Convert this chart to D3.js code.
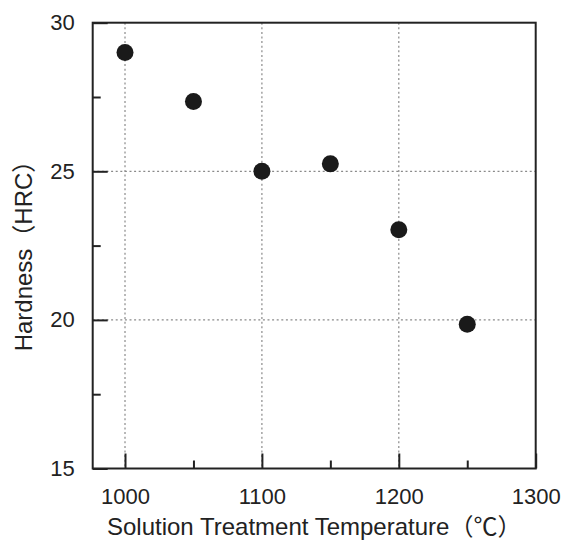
<!DOCTYPE html>
<html>
<head>
<meta charset="utf-8">
<script src="https://cdn.jsdelivr.net/npm/d3@7"></script>
<style>
  html, body { margin: 0; padding: 0; background: #fff; }
  svg { display: block; }
  text { font-family: "Liberation Sans", Arial, "Noto Sans CJK JP", sans-serif; fill: #222; }
</style>
</head>
<body>
<svg id="chart" width="562" height="540"></svg>
<script>
// Solution treatment temperature (°C) and resulting hardness (HRC)
const temperatures = [1000, 1050, 1100, 1150, 1200, 1250];
const hardness = [29.0, 27.35, 25.0, 25.25, 23.03, 19.85];

const xMajorTicks = [1000, 1100, 1200, 1300];
const xMinorTicks = [1050, 1150, 1250];
const yMajorTicks = [15, 20, 25, 30];
const yMinorTicks = [17.5, 22.5, 27.5];
const xGrid = [1000, 1100, 1200];
const yGrid = [20, 25];

const xTitle = "Solution Treatment Temperature（℃）";
const yTitle = "Hardness（HRC）";

(function () {
  const svg = d3.select("#chart");
  const plotL = 92.7, plotR = 535.7, plotT = 22.7, plotB = 468.5;

  const x = d3.scaleLinear().domain([976.4, 1300]).range([plotL, plotR]);
  const y = d3.scaleLinear().domain([15, 30]).range([plotB, plotT]);

  // dotted grid
  const grid = svg.append("g")
    .attr("stroke", "#8a8a8a")
    .attr("stroke-width", 1.2)
    .attr("stroke-dasharray", "2,2.6");
  grid.selectAll("line.vx").data(xGrid).join("line")
    .attr("class", "vx")
    .attr("x1", d => x(d)).attr("x2", d => x(d))
    .attr("y1", plotT).attr("y2", plotB);
  grid.selectAll("line.hy").data(yGrid).join("line")
    .attr("class", "hy")
    .attr("x1", plotL).attr("x2", plotR)
    .attr("y1", d => y(d)).attr("y2", d => y(d));

  // bottom axis: inward major and minor ticks
  svg.append("g")
    .attr("transform", `translate(0,${plotB})`)
    .call(d3.axisBottom(x).tickValues(xMajorTicks).tickSize(-15).tickPadding(20).tickFormat(d3.format("d")));
  svg.append("g")
    .attr("transform", `translate(0,${plotB})`)
    .call(d3.axisBottom(x).tickValues(xMinorTicks).tickSize(-8).tickFormat(""));

  // left axis
  svg.append("g")
    .attr("transform", `translate(${plotL},0)`)
    .call(d3.axisLeft(y).tickValues(yMajorTicks).tickSize(-15).tickPadding(18).tickFormat(d3.format("d")));
  svg.append("g")
    .attr("transform", `translate(${plotL},0)`)
    .call(d3.axisLeft(y).tickValues(yMinorTicks).tickSize(-8).tickFormat(""));

  svg.selectAll(".domain").remove();
  svg.selectAll(".tick line").attr("stroke", "#222").attr("stroke-width", 2);
  svg.selectAll(".tick text")
    .attr("font-size", 22)
    .attr("fill", "#222")
    .style("font-family", "'Liberation Sans', Arial, sans-serif");

  // frame
  svg.append("rect")
    .attr("x", plotL).attr("y", plotT)
    .attr("width", plotR - plotL).attr("height", plotB - plotT)
    .attr("fill", "none")
    .attr("stroke", "#222")
    .attr("stroke-width", 2);

  // points
  svg.append("g").selectAll("circle")
    .data(temperatures.map((t, i) => ({ t, h: hardness[i] })))
    .join("circle")
    .attr("cx", d => x(d.t))
    .attr("cy", d => y(d.h))
    .attr("r", 8.5)
    .attr("fill", "#1a1a1a");

  // axis titles
  svg.append("text")
    .attr("x", (plotL + plotR) / 2)
    .attr("y", 534.5)
    .attr("text-anchor", "middle")
    .attr("font-size", 24)
    .text(xTitle);

  svg.append("text")
    .attr("transform", `translate(32,250) rotate(-90)`)
    .attr("text-anchor", "middle")
    .attr("font-size", 24)
    .text(yTitle);
})();
</script>
</body>
</html>
